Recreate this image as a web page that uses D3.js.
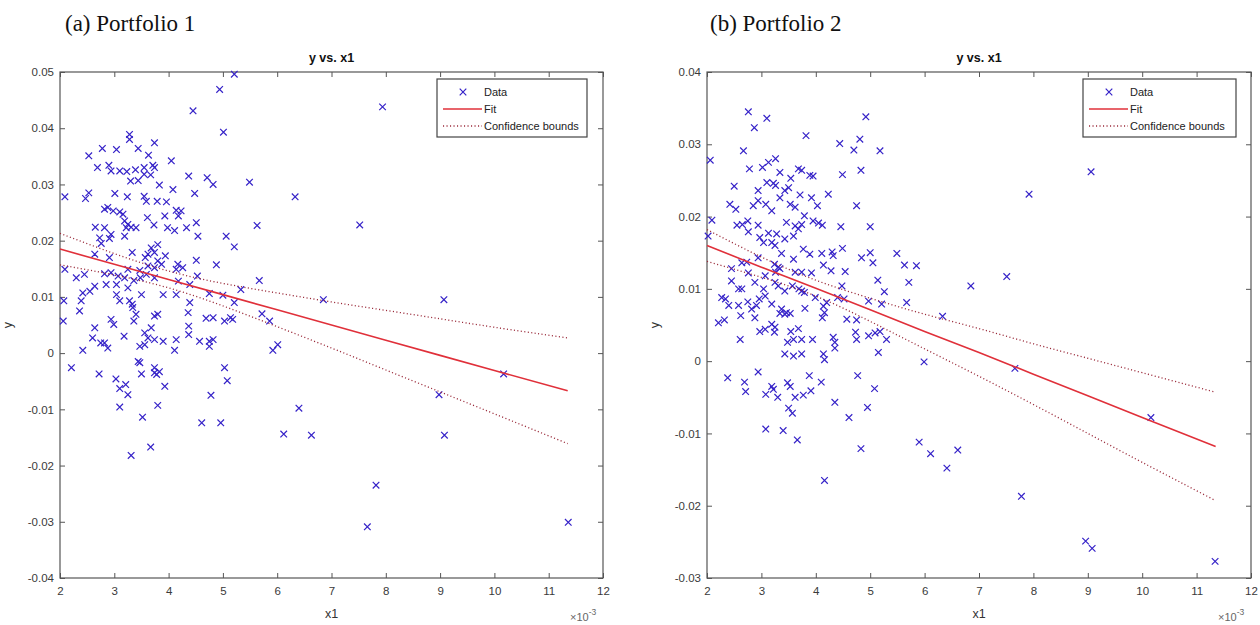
<!DOCTYPE html>
<html><head><meta charset="utf-8">
<script src="https://cdn.jsdelivr.net/npm/d3@7"></script>
<style>body{margin:0;background:#fff}svg{display:block}</style>
</head><body><svg id="c" width="1260" height="625"></svg>
<script>
// ---------- data (x1 in units of 1e-3, y raw) ----------
const xTicks = [2,3,4,5,6,7,8,9,10,11,12];
const yTicks1 = [-0.04,-0.03,-0.02,-0.01,0,0.01,0.02,0.03,0.04,0.05];
const yTicks2 = [-0.03,-0.02,-0.01,0,0.01,0.02,0.03,0.04];
const legendLabels = ["Data","Fit","Confidence bounds"];
const captions = ["(a) Portfolio 1","(b) Portfolio 2"];
const plotTitle = "y vs. x1";

const p1X = [3.28,3.28,3.74,5.01,2.78,3.04,3.44,2.53,3.63,2.69,2.90,2.94,3.10,3.23,3.39,3.55,3.71,3.74,4.05,3.30,3.44,3.55,3.67,4.37,4.71,4.82,5.49,3.83,4.08,2.09,2.47,2.53,3.01,3.24,3.55,3.59,3.79,3.96,4.48,6.33,2.82,2.88,2.98,3.10,3.16,4.14,4.23,4.18,3.61,3.93,3.19,3.25,3.31,3.22,3.40,2.65,2.82,3.73,3.98,4.11,4.33,4.51,5.63,2.94,2.91,2.73,3.19,4.54,5.06,5.21,2.76,3.62,3.68,3.74,3.80,3.57,3.80,3.33,3.94,3.87,3.74,3.62,2.64,2.91,4.51,4.88,2.09,2.30,2.45,2.82,2.94,3.07,3.19,3.25,3.47,3.59,4.17,4.26,4.14,4.53,5.67,2.85,3.04,3.25,3.36,3.48,3.74,4.39,4.18,5.33,4.75,5.00,5.21,2.42,2.55,2.64,2.07,2.39,2.36,3.04,3.10,3.28,3.33,3.34,3.50,3.90,4.14,4.39,4.36,3.40,3.36,3.74,3.80,2.06,2.94,2.99,4.69,4.82,5.03,5.14,5.18,5.72,5.86,2.64,2.60,3.18,3.56,3.62,3.68,3.74,3.90,4.14,4.11,4.37,4.37,4.57,4.75,4.82,4.75,2.82,2.88,2.75,2.42,3.47,3.56,6.01,5.92,3.44,3.47,3.74,2.21,5.03,
 2.72,3.03,3.10,3.21,3.25,3.10,3.50,3.74,3.78,3.83,3.93,3.80,3.52,3.31,3.67,4.61,4.78,4.96,5.08,6.40,6.12,6.63,
 8.98,9.08,10.17,7.82,7.66,11.36,7.94,7.52,6.85,9.07,5.21,4.94,4.45];
const p1Y = [0.0389,0.0380,0.0374,0.0393,0.0364,0.0362,0.0364,0.0351,0.0352,0.0330,0.0334,0.0324,0.0324,0.0323,0.0326,0.0330,0.0334,0.0330,0.0342,0.0306,0.0307,0.0318,0.0317,0.0315,0.0312,0.0300,0.0304,0.0299,0.0291,0.0278,0.0275,0.0285,0.0284,0.0278,0.0279,0.0270,0.0270,0.0269,0.0284,0.0278,0.0256,0.0259,0.0253,0.0251,0.0247,0.0254,0.0253,0.0244,0.0241,0.0244,0.0235,0.0229,0.0224,0.0223,0.0223,0.0224,0.0223,0.0228,0.0223,0.0218,0.0223,0.0232,0.0227,0.0211,0.0204,0.0205,0.0208,0.0208,0.0208,0.0189,0.0195,0.0176,0.0187,0.0179,0.0193,0.0170,0.0164,0.0179,0.0173,0.0158,0.0152,0.0155,0.0176,0.0170,0.0165,0.0157,0.0149,0.0134,0.0140,0.0141,0.0143,0.0137,0.0134,0.0149,0.0147,0.0140,0.0158,0.0152,0.0149,0.0137,0.0129,0.0122,0.0122,0.0116,0.0129,0.0134,0.0134,0.0122,0.0128,0.0113,0.0106,0.0103,0.0090,0.0107,0.0110,0.0119,0.0093,0.0093,0.0075,0.0104,0.0093,0.0093,0.0087,0.0081,0.0104,0.0104,0.0104,0.0090,0.0072,0.0069,0.0057,0.0066,0.0069,0.0057,0.0060,0.0051,0.0062,0.0063,0.0057,0.0063,0.0060,0.0070,0.0057,0.0045,0.0027,0.0030,0.0036,0.0027,0.0045,0.0024,0.0021,0.0024,0.0005,0.0048,0.0033,0.0021,0.0021,0.0024,0.0012,0.0018,0.0009,0.0018,0.0005,0.0012,0.0015,0.0015,0.0005,-0.0015,-0.0017,-0.0026,-0.0026,-0.0026,
 -0.0037,-0.0046,-0.0063,-0.0056,-0.0074,-0.0096,-0.0037,-0.0035,-0.0038,-0.0033,-0.0059,-0.0093,-0.0114,-0.0182,-0.0167,-0.0124,-0.0075,-0.0124,-0.0049,-0.0098,-0.0144,-0.0146,
 -0.0074,-0.0146,-0.0037,-0.0235,-0.0309,-0.0301,0.0438,0.0228,0.0095,0.0095,0.0496,0.0469,0.0431];

const p2X = [2.76,3.10,2.87,4.92,3.82,4.44,4.81,4.70,5.18,2.67,2.06,3.26,3.13,3.02,2.78,3.68,3.74,3.89,3.95,4.49,4.83,3.34,3.54,3.22,3.26,3.10,3.43,2.50,2.94,3.50,3.34,3.71,3.92,4.23,2.42,2.53,2.85,2.94,3.08,3.19,3.53,3.62,4.03,4.75,2.09,2.75,2.55,2.65,2.94,2.76,3.46,3.62,3.74,3.68,3.79,3.95,4.05,4.12,4.46,5.00,2.02,2.97,3.13,3.28,3.19,3.25,3.43,3.59,3.04,3.37,3.77,3.89,4.11,4.30,4.32,4.49,4.84,5.00,5.05,5.49,5.63,5.85,2.45,2.64,2.73,2.94,3.24,3.31,3.59,2.76,3.07,3.26,3.34,3.62,3.74,3.92,4.14,4.28,4.54,4.48,5.14,5.71,5.26,2.45,2.58,2.64,2.88,3.04,3.25,3.31,3.43,3.57,3.69,3.74,3.79,3.99,4.20,4.40,4.52,4.97,5.21,5.67,6.33,2.27,2.34,2.40,2.58,2.75,2.82,2.96,2.91,3.07,3.19,3.37,3.46,3.53,3.80,4.14,4.16,4.12,4.57,4.75,2.21,2.32,2.62,2.88,3.19,3.25,3.24,3.34,3.43,2.97,3.07,2.61,3.54,3.68,3.59,3.74,3.94,4.32,4.35,4.35,4.73,4.75,4.97,5.09,5.18,5.30,5.15,3.43,3.59,3.74,4.14,3.48,4.16,
 5.99,2.38,2.69,2.71,2.94,3.08,3.19,3.22,3.30,3.48,3.53,3.50,3.57,3.62,3.77,3.91,3.88,4.10,4.77,5.08,4.35,4.95,4.61,3.08,3.40,3.66,4.83,4.16,5.90,6.11,6.41,6.61,
 7.66,10.16,7.78,8.96,9.08,11.34,9.06,7.92,6.85,7.51];
const p2Y = [0.0345,0.0336,0.0323,0.0338,0.0312,0.0301,0.0307,0.0292,0.0291,0.0291,0.0278,0.0280,0.0275,0.0268,0.0266,0.0266,0.0264,0.0257,0.0256,0.0258,0.0264,0.0261,0.0253,0.0246,0.0243,0.0247,0.0236,0.0242,0.0236,0.0240,0.0226,0.0230,0.0226,0.0231,0.0217,0.0210,0.0215,0.0222,0.0217,0.0208,0.0217,0.0213,0.0215,0.0215,0.0195,0.0194,0.0188,0.0189,0.0188,0.0179,0.0192,0.0187,0.0189,0.0183,0.0201,0.0194,0.0191,0.0188,0.0186,0.0186,0.0173,0.0171,0.0177,0.0176,0.0164,0.0160,0.0169,0.0173,0.0164,0.0149,0.0155,0.0148,0.0149,0.0151,0.0146,0.0156,0.0143,0.0150,0.0136,0.0149,0.0133,0.0132,0.0128,0.0136,0.0137,0.0143,0.0134,0.0130,0.0141,0.0122,0.0118,0.0123,0.0128,0.0123,0.0123,0.0122,0.0133,0.0125,0.0124,0.0104,0.0112,0.0109,0.0096,0.0111,0.0100,0.0100,0.0109,0.0100,0.0109,0.0104,0.0097,0.0104,0.0100,0.0097,0.0095,0.0088,0.0081,0.0088,0.0086,0.0083,0.0079,0.0081,0.0062,0.0088,0.0086,0.0077,0.0077,0.0082,0.0072,0.0086,0.0077,0.0090,0.0079,0.0072,0.0067,0.0066,0.0073,0.0076,0.0067,0.0060,0.0058,0.0057,0.0053,0.0057,0.0063,0.0060,0.0051,0.0047,0.0040,0.0066,0.0065,0.0041,0.0044,0.0030,0.0041,0.0045,0.0030,0.0030,0.0030,0.0033,0.0026,0.0018,0.0040,0.0030,0.0035,0.0039,0.0041,0.0030,0.0012,0.0010,0.0007,0.0010,0.0010,0.0026,0.0002,
 -0.0001,-0.0023,-0.0029,-0.0042,-0.0015,-0.0046,-0.0035,-0.0039,-0.0050,-0.0030,-0.0035,-0.0065,-0.0072,-0.0050,-0.0047,-0.0041,-0.0020,-0.0029,-0.0020,-0.0038,-0.0057,-0.0064,-0.0078,-0.0094,-0.0096,-0.0109,-0.0121,-0.0165,-0.0112,-0.0128,-0.0148,-0.0123,
 -0.0010,-0.0078,-0.0187,-0.0249,-0.0259,-0.0277,0.0262,0.0231,0.0104,0.0117];

// fitted line and confidence bounds
const fitX = [2,3,4,5,6,7,8,9,10,11.35];
const fit1 = [0.0185,0.0158,0.0131,0.0104,0.0077,0.0050,0.0023,-0.0004,-0.0031,-0.0067];
const upper1 = [0.0213,0.0177,0.0146,0.0124,0.0107,0.0091,0.0076,0.0061,0.0046,0.0027];
const lower1 = [0.0157,0.0139,0.0116,0.0084,0.0047,0.0009,-0.0030,-0.0069,-0.0108,-0.0161];
const fit2 = [0.0160,0.0130,0.0101,0.0071,0.0041,0.0012,-0.0018,-0.0048,-0.0078,-0.0118];
const upper2 = [0.0182,0.0144,0.0112,0.0087,0.0065,0.0045,0.0024,0.0004,-0.0016,-0.0043];
const lower2 = [0.0138,0.0116,0.0090,0.0055,0.0017,-0.0021,-0.0060,-0.0100,-0.0140,-0.0193];

// ---------- drawing ----------
const svg = d3.select("#c");
const FONT = "'Liberation Sans', Arial, Helvetica, sans-serif";
const DATA_COLOR = "#3522c8", FIT_COLOR = "#e0303a", CB_COLOR = "#9a2a3a";

const panels = [
  {X:p1X, Y:p1Y, fit:fit1, up:upper1, lo:lower1, yT:yTicks1, yDom:[-0.04,0.05], L:60, R:603, cap:captions[0], capX:65, legX:437, legW:150},
  {X:p2X, Y:p2Y, fit:fit2, up:upper2, lo:lower2, yT:yTicks2, yDom:[-0.03,0.04], L:707, R:1251, cap:captions[1], capX:710, legX:1083, legW:153}
];
const T = 72, B = 578;

function xMark(s){ return `M${-s},${-s}L${s},${s}M${-s},${s}L${s},${-s}`; }
const yFmt = d => Math.abs(d) < 1e-12 ? "0" : d.toFixed(2);

panels.forEach(p => {
  const x = d3.scaleLinear().domain([2,12]).range([p.L, p.R]);
  const y = d3.scaleLinear().domain(p.yDom).range([B, T]);
  const g = svg.append("g");

  // caption
  g.append("text").attr("x", p.capX).attr("y", 31).text(p.cap)
    .attr("font-family","'Liberation Serif','Times New Roman',serif").attr("font-size", 23).attr("fill","#111");
  // title
  g.append("text").attr("x", (p.L+p.R)/2).attr("y", 62).attr("text-anchor","middle").text(plotTitle)
    .attr("font-family",FONT).attr("font-weight","bold").attr("font-size",12.5).attr("fill","#111");

  // axes
  const ax = [
    g.append("g").attr("transform",`translate(0,${B})`).call(d3.axisBottom(x).tickValues(xTicks).tickSize(-5).tickPadding(9).tickFormat(d3.format("d"))),
    g.append("g").attr("transform",`translate(0,${T})`).call(d3.axisTop(x).tickValues(xTicks).tickSize(-5).tickFormat("")),
    g.append("g").attr("transform",`translate(${p.L},0)`).call(d3.axisLeft(y).tickValues(p.yT).tickSize(-5).tickPadding(6).tickFormat(yFmt)),
    g.append("g").attr("transform",`translate(${p.R},0)`).call(d3.axisRight(y).tickValues(p.yT).tickSize(-5).tickFormat(""))
  ];
  ax.forEach(a => {
    a.select(".domain").remove();
    a.selectAll("line").attr("stroke","#555");
    a.selectAll("text").attr("font-family",FONT).attr("font-size",11.5).attr("fill","#3a3a3a");
  });
  g.append("rect").attr("x",p.L).attr("y",T).attr("width",p.R-p.L).attr("height",B-T)
    .attr("fill","none").attr("stroke","#555").attr("stroke-width",1.2);

  // axis labels
  g.append("text").attr("x",(p.L+p.R)/2).attr("y",618).attr("text-anchor","middle").text("x1")
    .attr("font-family",FONT).attr("font-size",12.5).attr("fill","#333");
  g.append("text").attr("transform",`translate(${p.L-48},${(T+B)/2}) rotate(-90)`).attr("text-anchor","middle").text("y")
    .attr("font-family",FONT).attr("font-size",12.5).attr("fill","#333");
  const ex = g.append("text").attr("x",p.R-33).attr("y",621).attr("font-family",FONT).attr("font-size",11).attr("fill","#666");
  ex.append("tspan").text("\u00d710");
  ex.append("tspan").attr("dy",-6).attr("font-size",8.5).text("-3");

  // data markers
  const pts = p.X.map((v,i)=>[v,p.Y[i]]);
  g.append("g").selectAll("path").data(pts).join("path")
    .attr("transform", d=>`translate(${x(d[0])},${y(d[1])})`)
    .attr("d", xMark(3.3)).attr("stroke",DATA_COLOR).attr("stroke-width",1.2).attr("fill","none");

  // fit + bounds
  const line = d3.line().x(d=>x(d[0])).y(d=>y(d[1]));
  const curve = d3.line().x(d=>x(d[0])).y(d=>y(d[1])).curve(d3.curveNatural);
  g.append("path").attr("d", line(fitX.map((v,i)=>[v,p.fit[i]]))).attr("fill","none").attr("stroke",FIT_COLOR).attr("stroke-width",1.6);
  [p.up,p.lo].forEach(arr => {
    g.append("path").attr("d", curve(fitX.map((v,i)=>[v,arr[i]]))).attr("fill","none")
      .attr("stroke",CB_COLOR).attr("stroke-width",1.3).attr("stroke-dasharray","1.1,2.4");
  });

  // legend
  const lg = g.append("g").attr("transform",`translate(${p.legX},79)`);
  lg.append("rect").attr("width",p.legW).attr("height",58).attr("fill","#fff").attr("stroke","#444").attr("stroke-width",1.2);
  const rows = [13,30,47];
  lg.append("path").attr("transform",`translate(26,${rows[0]})`).attr("d",xMark(3.3)).attr("stroke",DATA_COLOR).attr("stroke-width",1.2);
  lg.append("line").attr("x1",6).attr("x2",45).attr("y1",rows[1]).attr("y2",rows[1]).attr("stroke",FIT_COLOR).attr("stroke-width",1.6);
  lg.append("line").attr("x1",6).attr("x2",45).attr("y1",rows[2]).attr("y2",rows[2]).attr("stroke",CB_COLOR).attr("stroke-width",1.3).attr("stroke-dasharray","1.1,2.4");
  legendLabels.forEach((t,i)=>{
    lg.append("text").attr("x",47).attr("y",rows[i]+4).text(t)
      .attr("font-family",FONT).attr("font-size",11).attr("fill","#222");
  });
});
</script></body></html>
